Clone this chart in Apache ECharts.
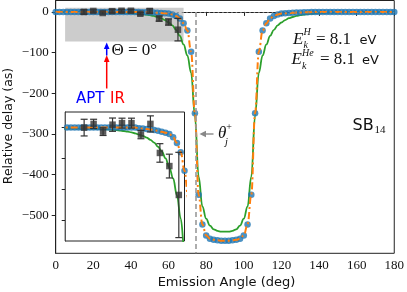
<!DOCTYPE html>
<html><head><meta charset="utf-8">
<script src="https://cdn.jsdelivr.net/npm/echarts@6/dist/echarts.min.js"></script>
<style>html,body{margin:0;padding:0;background:#fff}#c{width:407px;height:292px}</style>
</head><body><div id="c"></div>
<script>
// ---- data ----
const angles = [0,2,4,6,8,10,12,14,16,18,20,22,24,26,28,30,32,34,36,38,40,42,44,46,48,50,52,54,56,58,60,62,64,66,68,70,72,74,76,78,80,82,84,86,88,90,92,94,96,98,100,102,104,106,108,110,112,114,116,118,120,122,124,126,128,130,132,134,136,138,140,142,144,146,148,150,152,154,156,158,160,162,164,166,168,170,172,174,176,178,180];
const tdseDelay = [0,0,0,0,0,0,0,0,0,0,0,0,0,0,0,0,0,0,0,0,0,0,
  -0.5,-0.7,-1,-1.3,-1.7,-2.2,-2.8,-3.4,-4.2,-6.3,-10,-16,-28,-46,-98,-249,-449,-522,-549,-557,-560,-561,-562,-562,
  -562,-561,-560,-557,-549,-522,-449,-249,-98,-46,-28,-16,-10,-6.3,-4.2,-3.4,-2.8,-2.2,-1.7,-1.3,-1,-0.7,-0.5,
  0,0,0,0,0,0,0,0,0,0,0,0,0,0,0,0,0,0,0,0,0,0];
const modelDelay = [0,0,0,0,0,0,0,0,0,0,0,0,0,0,0,0,0,0,0,0,0,0,
  -0.5,-0.7,-1,-1.3,-1.7,-2.2,-2.8,-3.4,-4.2,-6.3,-10,-16,-28,-46,-98,-249,-449,-522,-549,-557,-560,-561,-562,-562,
  -562,-561,-560,-557,-549,-522,-449,-249,-98,-46,-28,-16,-10,-6.3,-4.2,-3.4,-2.8,-2.2,-1.7,-1.3,-1,-0.7,-0.5,
  0,0,0,0,0,0,0,0,0,0,0,0,0,0,0,0,0,0,0,0,0,0];
const simpleDelay = [-0.8,-0.8,-0.8,-0.8,-0.8,-0.8,-0.8,-0.8,-0.8,-0.8,-0.8,
  -0.9,-1,-1.1,-1.3,-1.5,-1.7,-2,-2.3,-2.7,-3.2,-3.8,-4.6,-5.5,-6.6,-8,-9.8,-12.5,-15.5,-20,-26,-33,-44,-59,-80,-107,-150,-255,-405,-478,-508,-525,-534,-538,-540,-540,
  -540,-538,-534,-525,-508,-478,-405,-255,-150,-107,-80,-59,-44,-33,-26,-20,-15.5,-12.5,-9.8,-8,-6.6,-5.5,-4.6,-3.8,-3.2,-2.7,-2.3,-2,-1.7,-1.5,-1.3,-1.1,-1,-0.9,
  -0.8,-0.8,-0.8,-0.8,-0.8,-0.8,-0.8,-0.8,-0.8,-0.8,-0.8];
const expAngle = [15,20,25,30,35,40,45,50,55,60,65];
const expDelay = [-0.1,2.3,-2.7,1.8,2.8,2.8,-4.6,2.3,-16.5,-25,-43.7];
const expErr = [5.4,3,2.5,4.3,3.2,3.2,2.7,5.2,6,7.7,27.6];
const yTicks = [-500,-400,-300,-200,-100,0];
const insetXTicks = [20,40,60];
const insetYTicks = [-60,-40,-20,0];
const thetaJ = 74.3;
const zoomBox = [[5,10],[68,-73]];

// ---- chart ----
const SERIF = 'Liberation Serif';
const SANS = 'DejaVu Sans';
const C0 = '#1f77b4', C1 = '#ff7f0e', C2 = '#2ca02c', INK = '#222';
const zip = (a,b)=>a.map((v,i)=>[v,b[i]]);

function dataSeries(xi, yi, dz){
  return [
    {type:'line', xAxisIndex:xi, yAxisIndex:yi, z:2+dz, data:zip(angles,simpleDelay), showSymbol:false,
     smooth:0.4, smoothMonotone:'x', lineStyle:{color:C2, width:1.8}, silent:true},
    {type:'scatter', xAxisIndex:xi, yAxisIndex:yi, z:3+dz, data:zip(angles,tdseDelay), symbol:'circle', symbolSize:6.5,
     itemStyle:{color:C0}, silent:true},
    {type:'line', xAxisIndex:xi, yAxisIndex:yi, z:4+dz, data:zip(angles,modelDelay), showSymbol:false,
     smooth:0.4, smoothMonotone:'x', lineStyle:{color:C1, width:2, type:[7,3,2,3]}, silent:true},
    {type:'custom', xAxisIndex:xi, yAxisIndex:yi, z:5+dz, clip:true, silent:true,
     data:expAngle.map((a,i)=>[a,expDelay[i],expErr[i]]), encode:{x:0,y:1},
     renderItem:(params, api)=>{
       const x=api.value(0), y=api.value(1), e=api.value(2);
       const p1=api.coord([x,y+e]), p2=api.coord([x,y-e]);
       const w=3.5, st={stroke:'#333', lineWidth:1.2};
       return {type:'group', children:[
         {type:'line', shape:{x1:p1[0],y1:p1[1],x2:p2[0],y2:p2[1]}, style:st},
         {type:'line', shape:{x1:p1[0]-w,y1:p1[1],x2:p1[0]+w,y2:p1[1]}, style:st},
         {type:'line', shape:{x1:p2[0]-w,y1:p2[1],x2:p2[0]+w,y2:p2[1]}, style:st}]};
     }},
    {type:'scatter', xAxisIndex:xi, yAxisIndex:yi, z:6+dz, data:zip(expAngle,expDelay), symbol:'rect', symbolSize:6.5,
     itemStyle:{color:'#333'}, silent:true}
  ];
}

const minusFmt = v => v < 0 ? '\u2212' + (-v) : String(v);

function T(x,y,text,size,family,opts){
  opts = opts || {};
  return {type:'text', x, y, z:100, silent:true, rotation:opts.rotation||0,
    style:{text, fontSize:size, fontFamily:family, fontStyle:opts.italic?'italic':'normal',
      fill:opts.fill||'#111', textAlign:opts.align||'left', align:opts.align||'left',
      textVerticalAlign:'middle', verticalAlign:'middle'}};
}

const chart = echarts.init(document.getElementById('c'), null, {renderer:'canvas'});
chart.setOption({
  animation:false,
  backgroundColor:'#fff',
  grid:[
    {left:55.7, top:0.5, width:341, height:252.8, show:true, backgroundColor:'#fff', borderColor:INK, borderWidth:1},
    {left:65.2, top:112, width:119.3, height:129, show:true, backgroundColor:'#fff', borderColor:INK, borderWidth:1, z:3}
  ],
  xAxis:[
    {type:'value', gridIndex:0, min:0, max:180, interval:20,
     axisLine:{show:true, lineStyle:{color:INK, width:1}}, axisTick:{show:true, length:4, lineStyle:{color:INK}},
     axisLabel:{fontFamily:SERIF, fontSize:13, color:'#111', margin:6}, splitLine:{show:false}},
    {type:'value', gridIndex:1, min:5, max:68,
     axisLine:{show:true, lineStyle:{color:INK, width:1}}, axisTick:{show:true, length:3.5, customValues:insetXTicks, lineStyle:{color:INK}},
     axisLabel:{show:false}, splitLine:{show:false}}
  ],
  yAxis:[
    {type:'value', gridIndex:0, min:-593, max:28,
     axisLine:{show:true, lineStyle:{color:INK, width:1}}, axisTick:{show:true, length:4, customValues:yTicks, lineStyle:{color:INK}},
     axisLabel:{fontFamily:SERIF, fontSize:13, color:'#111', margin:7, customValues:yTicks, formatter:minusFmt}, splitLine:{show:false}},
    {type:'value', gridIndex:1, min:-73.5, max:10,
     axisLine:{show:true, lineStyle:{color:INK, width:1}}, axisTick:{show:true, length:3.5, customValues:insetYTicks, lineStyle:{color:INK}},
     axisLabel:{show:false}, splitLine:{show:false}}
  ],
  series:[
    {type:'line', xAxisIndex:0, yAxisIndex:0, z:1, data:[], silent:true,
     markArea:{silent:true, itemStyle:{color:'#cccccc', borderWidth:0}, label:{show:false},
       data:[[{coord:zoomBox[0]},{coord:zoomBox[1]}]]},
     markLine:{silent:true, symbol:['none','none'], label:{show:false},
       data:[
         [{coord:[0,0], lineStyle:{color:'#888', width:1.2, type:[1.5,3]}},{coord:[180,0]}],
         [{coord:[thetaJ,0], lineStyle:{color:'#999', width:1.6, type:[5,3]}},{coord:[thetaJ,-593]}]
       ]}},
    ...dataSeries(0,0,0),
    ...dataSeries(1,1,10)
  ],
  graphic:[
    T(226.5,282.5,'Emission Angle (deg)',13,SANS,{align:'center'}),
    T(9,126,'Relative delay (as)',12.5,SANS,{align:'center', rotation:Math.PI/2}),
    // E_k^H = 8.1 eV
    T(293,39.5,'E',17,SERIF,{italic:true}),
    T(303.5,32,'H',10,SERIF,{italic:true}),
    T(303.5,45.5,'k',10,SERIF,{italic:true}),
    T(316,39.5,'= 8.1',17,SERIF),
    T(359.5,40.5,'eV',13,SANS),
    // E_k^He = 8.1 eV
    T(291.5,60,'E',17,SERIF,{italic:true}),
    T(302,53.5,'He',10,SERIF,{italic:true}),
    T(302,66.5,'k',10,SERIF,{italic:true}),
    T(320,60,'= 8.1',17,SERIF),
    T(362,61,'eV',13,SANS),
    // SB14
    T(352.5,126,'SB',16,SANS),
    T(374.5,130.5,'14',11,SERIF),
    // Theta = 0
    T(111.5,50.5,'\u0398 = 0\u00b0',17,SERIF),
    // APT IR
    T(76,98.7,'APT',15,SANS,{fill:'#0000ff'}),
    T(110,98.7,'IR',15,SANS,{fill:'#ff0000'}),
    {type:'line', z:100, silent:true, shape:{x1:106.7,y1:88.5,x2:106.7,y2:61}, style:{stroke:'#ff0000', lineWidth:1.5}},
    {type:'polygon', z:100, silent:true, shape:{points:[[106.7,55],[103.9,62],[109.5,62]]}, style:{fill:'#ff0000'}},
    {type:'line', z:100, silent:true, shape:{x1:106.7,y1:55.5,x2:106.7,y2:48}, style:{stroke:'#0000ff', lineWidth:1.5}},
    {type:'polygon', z:100, silent:true, shape:{points:[[106.7,42.5],[103.9,49],[109.5,49]]}, style:{fill:'#0000ff'}},
    // theta_j^+
    T(218,133.5,'\u03b8',17,SERIF,{italic:true}),
    T(226.3,127.5,'+',10,SERIF),
    T(225,142,'j',10.5,SERIF,{italic:true}),
    {type:'line', z:100, silent:true, shape:{x1:213.5,y1:134,x2:204,y2:134}, style:{stroke:'#888', lineWidth:1.4}},
    {type:'polygon', z:100, silent:true, shape:{points:[[199.5,134],[206,130.8],[206,137.2]]}, style:{fill:'#888'}}
  ]
});
</script>
</body></html>
